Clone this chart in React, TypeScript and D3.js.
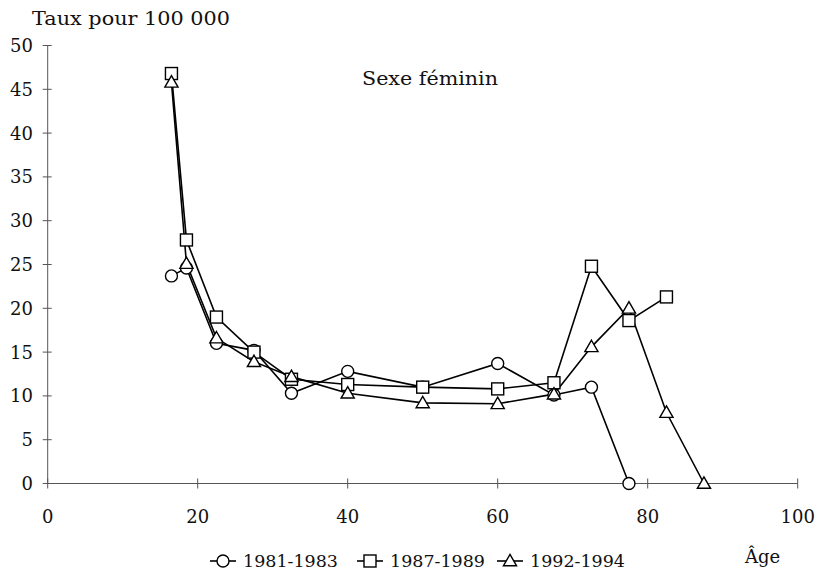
import React from "react";
import * as d3 from "d3";

const ages = [16.5, 18.5, 22.5, 27.5, 32.5, 40, 50, 60, 67.5, 72.5, 77.5, 82.5, 87.5];
const s1981 = [23.7, 24.6, 16.0, 15.2, 10.3, 12.8, 11.0, 13.7, 10.1, 11.0, 0];
const s1987 = [46.8, 27.8, 19.0, 15.0, 11.9, 11.3, 11.0, 10.8, 11.5, 24.8, 18.6, 21.3];
const s1992 = [45.8, 25.1, 16.6, 13.9, 12.2, 10.3, 9.2, 9.1, 10.2, 15.6, 20.0, 8.1, 0];
const seriesNames = ["1981-1983", "1987-1989", "1992-1994"];
const markers = ["circle", "square", "triangle"];
const xTicks = [0, 20, 40, 60, 80, 100];
const yTicks = [0, 5, 10, 15, 20, 25, 30, 35, 40, 45, 50];

const W = 821;
const H = 572;
const FONT = "'DejaVu Serif', serif";

function Marker({ type, cx, cy }: { type: string; cx: number; cy: number }) {
  const st = { fill: "#fff", stroke: "#000", strokeWidth: 1.4 };
  if (type === "circle") return <circle cx={cx} cy={cy} r={6} {...st} />;
  if (type === "square") return <rect x={cx - 6} y={cy - 6} width={12} height={12} {...st} />;
  const p = d3.symbol(d3.symbolTriangle, 75)() as string;
  return <path d={p} transform={`translate(${cx},${cy + 1})`} {...st} />;
}

export default function App() {
  const x = d3.scaleLinear().domain([0, 100]).range([47.7, 797.7]);
  const y = d3.scaleLinear().domain([0, 50]).range([483.5, 45.5]);
  const allSeries = [s1981, s1987, s1992];
  const line = d3
    .line<number[]>()
    .x((d) => x(d[0]))
    .y((d) => y(d[1]));

  const legendX = [223, 370, 510];

  return (
    <svg
      width={W}
      height={H}
      style={{ position: "absolute", left: 0, top: 0, background: "#fff" }}
      fontFamily={FONT}
    >
      <rect width={W} height={H} fill="#fff" />
      {/* axes */}
      <line x1={x(0)} x2={x(0)} y1={y(50)} y2={y(0)} stroke="#555" strokeWidth={1} />
      <line x1={x(0)} x2={x(100)} y1={y(0)} y2={y(0)} stroke="#555" strokeWidth={1} />
      {yTicks.map((t) => (
        <g key={"y" + t}>
          <line x1={x(0) - 5} x2={x(0) + 4} y1={y(t)} y2={y(t)} stroke="#555" strokeWidth={1} />
          <text x={33} y={y(t) + 6.5} textAnchor="end" fontSize={18} fill="#111">
            {t}
          </text>
        </g>
      ))}
      {xTicks.map((t) => (
        <g key={"x" + t}>
          <line x1={x(t)} x2={x(t)} y1={y(0) - 5} y2={y(0) + 5} stroke="#555" strokeWidth={1} />
          <text x={x(t)} y={523} textAnchor="middle" fontSize={18} fill="#111">
            {t}
          </text>
        </g>
      ))}
      <text x={32} y={25} fontSize={18} fill="#111" textLength={198} lengthAdjust="spacingAndGlyphs">
        Taux pour 100 000
      </text>
      <text x={362} y={85} fontSize={18} fill="#111" textLength={136} lengthAdjust="spacingAndGlyphs">
        Sexe féminin
      </text>
      <text x={745} y={563} fontSize={18} fill="#111">
        Âge
      </text>

      {/* series */}
      {allSeries.map((vals, si) => {
        const pts = vals.map((v, i) => [ages[i], v]);
        return (
          <g key={"s" + si}>
            <path d={line(pts) as string} fill="none" stroke="#000" strokeWidth={1.6} />
          </g>
        );
      })}
      {allSeries.map((vals, si) => (
        <g key={"m" + si}>
          {vals.map((v, i) => (
            <Marker key={i} type={markers[si]} cx={x(ages[i])} cy={y(v)} />
          ))}
        </g>
      ))}

      {/* legend */}
      {seriesNames.map((name, i) => (
        <g key={"l" + i}>
          <line
            x1={legendX[i] - 13}
            x2={legendX[i] + 13}
            y1={561}
            y2={561}
            stroke="#000"
            strokeWidth={1.6}
          />
          <Marker type={markers[i]} cx={legendX[i]} cy={561} />
          <text x={legendX[i] + 20} y={567} fontSize={17.5} fill="#111" textLength={95} lengthAdjust="spacingAndGlyphs">
            {name}
          </text>
        </g>
      ))}
    </svg>
  );
}
